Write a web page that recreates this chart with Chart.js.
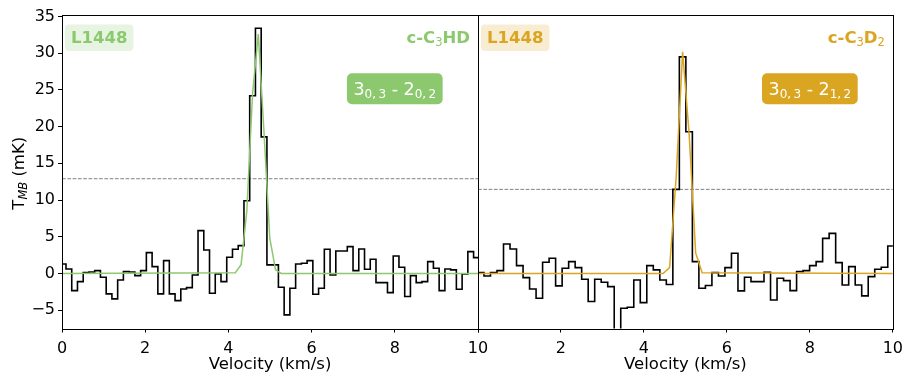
<!DOCTYPE html>
<html>
<head>
<meta charset="utf-8">
<script src="https://cdn.jsdelivr.net/npm/chart.js@4.4.1/dist/chart.umd.min.js"></script>
<style>
  html, body { margin: 0; padding: 0; background: #fff; }
  #wrap { position: relative; width: 907px; height: 376px; overflow: hidden; background: #fff; }
  #wrap canvas { position: absolute; top: 0; }
  #left { left: 0; }
  #right { left: 470px; }
</style>
</head>
<body>
<div id="wrap">
  <canvas id="left" width="500" height="376"></canvas>
  <canvas id="right" width="440" height="376"></canvas>
</div>
<script>
// ---- c-C3HD 3(0,3)-2(0,2) towards L1448 ----
// lower velocity edge of the first channel and channel width (km/s)
const c3hdEdge0 = -0.042;
const c3hdDv = 0.138;
// antenna temperature per channel (mK)
const c3hdT = [
  1.29, 0.61, -2.34, -1.11, 0.11, 0.20, 0.38, -0.52, -2.79, -3.47,
  -0.89, 0.25, 0.20, -0.30, 0.38, 2.83, 0.93, -2.79, 1.75, -2.79,
  -3.70, -2.11, -1.93, -0.21, 5.83, 3.20, -2.70, -0.07, -1.11, 2.20,
  3.30, 3.79, 9.91, 24.2, 33.4, 18.6, 1.16, 1.16, -1.88, -5.65,
  -2.02, 1.29, 1.38, 1.75, -2.84, -2.02, 3.29, -0.21, 3.06, 3.06,
  3.65, 0.38, 3.33, 0.57, 1.93, -1.25, -1.25, -2.61, 2.38, 0.84,
  -3.15, -0.30, -1.25, -1.11, 1.61, 0.70, -2.34, 0.61, 0.48, -2.16,
  -0.07, 2.97, 2.15
];
// Gaussian fit, sampled on the channel centres
const c3hdFitV = [0, 4.167, 4.305, 4.443, 4.581, 4.719, 4.857, 4.995, 5.133, 5.271, 10];
const c3hdFitT = [0, 0.1, 1.2, 8.5, 24.5, 32.6, 19.1, 4.8, 0.5, 0, 0];
// 3 sigma level (mK)
const c3hdLevel = 12.9;

// ---- c-C3D2 3(0,3)-2(1,2) towards L1448 ----
const c3d2Edge0 = -0.013;
const c3d2Dv = 0.157;
const c3d2T = [
  0.11, -0.34, 0.11, 0.38, 4.01, 3.33, 1.07, -0.57, -2.11, -3.38,
  1.52, 2.06, -1.70, 0.70, 1.61, 0.79, -0.79, -3.83, -0.79, -1.20,
  -1.79, -7.90, -4.74, -4.60, -0.89, -3.97, 1.07, 0.48, -0.89, -1.50,
  11.45, 29.5, 19.3, 1.61, -2.02, -1.64, 0.11, -0.34, 0.79, 2.74,
  -2.38, -0.52, -1.11, -1.11, 0.16, -3.61, -0.66, -0.98, -2.34, 0.25,
  0.38, 1.07, 1.61, 4.78, 5.46, 1.47, -1.57, 0.93, -1.57, -3.06,
  -0.43, 0.57, 0.84, 3.74
];
const c3d2FitV = [0, 4.462, 4.619, 4.776, 4.933, 5.090, 5.247, 5.404, 10];
const c3d2FitT = [0, 0, 0.8, 13.0, 30.2, 19.0, 2.8, 0.1, 0];
const c3d2Level = 11.45;

// axes
const velTicks = [0, 2, 4, 6, 8, 10];
const tmbTicks = [-5, 0, 5, 10, 15, 20, 25, 30, 35];
const velRange = [0, 10];
const tmbRange = [-7.5, 35.2];

const FF = "'DejaVu Sans', sans-serif";
Chart.defaults.font.family = FF;
Chart.defaults.color = '#000';

const GREEN = '#8cc96e';
const GOLD = '#daa520';

function stepPoints(edge0, dv, temps) {
  const pts = temps.map((t, i) => ({ x: edge0 + i * dv, y: t }));
  pts.push({ x: edge0 + temps.length * dv, y: temps[temps.length - 1] });
  return pts;
}
function pairPoints(xs, ys) {
  return xs.map((x, i) => ({ x: x, y: ys[i] }));
}
function fmtNum(v) {
  return v < 0 ? '\u2212' + Math.abs(v) : String(v);
}
function runsWidth(ctx, runs) {
  let w = 0;
  for (const r of runs) { ctx.font = r.font; w += ctx.measureText(r.t).width; }
  return w;
}
function drawRuns(ctx, runs, x, y) {
  let cx = x;
  for (const r of runs) {
    ctx.font = r.font;
    ctx.fillText(r.t, cx, y + (r.dy || 0));
    cx += ctx.measureText(r.t).width;
  }
}
function roundBox(ctx, x, y, w, h, r) {
  ctx.beginPath();
  ctx.moveTo(x + r, y);
  ctx.lineTo(x + w - r, y);
  ctx.arcTo(x + w, y, x + w, y + r, r);
  ctx.lineTo(x + w, y + h - r);
  ctx.arcTo(x + w, y + h, x + w - r, y + h, r);
  ctx.lineTo(x + r, y + h);
  ctx.arcTo(x, y + h, x, y + h - r, r);
  ctx.lineTo(x, y + r);
  ctx.arcTo(x, y, x + r, y, r);
  ctx.closePath();
}

const bold = `bold 16.5px ${FF}`;
const sub = `11.5px ${FF}`;
const big = `17.5px ${FF}`;
const small = `12px ${FF}`;

// frame, labels and boxes drawn on top of each panel
const panelDecor = {
  id: 'panelDecor',
  afterDraw(chart, args, o) {
    const ctx = chart.ctx;
    const a = chart.chartArea;
    const L = a.left, T = a.top, R = a.right, B = a.bottom, W = R - L;
    ctx.save();
    // axes frame
    ctx.strokeStyle = '#000';
    ctx.lineWidth = 1;
    ctx.strokeRect(Math.round(L) + 0.5, Math.round(T) + 0.5, Math.round(R) - Math.round(L), Math.round(B) - Math.round(T));
    ctx.textAlign = 'left';
    ctx.textBaseline = 'alphabetic';
    // source tag
    ctx.font = bold;
    const tw = ctx.measureText(o.source).width;
    ctx.fillStyle = o.tagBg;
    roundBox(ctx, L + 3, T + 9.5, tw + 12, 26.5, 4);
    ctx.fill();
    ctx.fillStyle = o.color;
    ctx.fillText(o.source, L + 9, T + 28);
    // species
    const sw = runsWidth(ctx, o.species);
    drawRuns(ctx, o.species, R - 8 - sw, T + 28.3);
    // transition
    const trw = runsWidth(ctx, o.transition);
    const cx = L + 0.8 * W, cy = T + 73.8;
    const bw = trw + 13, bh = 31;
    ctx.fillStyle = o.color;
    roundBox(ctx, cx - bw / 2, cy - bh / 2, bw, bh, 5);
    ctx.fill();
    ctx.fillStyle = '#fff';
    drawRuns(ctx, o.transition, cx - trw / 2, cy + 6.2);
    // y axis title
    if (o.yTitle) {
      const runs = [
        { t: 'T', font: `16.5px ${FF}` },
        { t: 'MB', font: `italic 11.5px ${FF}`, dy: 3 },
        { t: ' (mK)', font: `16.5px ${FF}` }
      ];
      const w = runsWidth(ctx, runs);
      ctx.fillStyle = '#000';
      ctx.translate(24, (T + B) / 2 + 1.5);
      ctx.rotate(-Math.PI / 2);
      drawRuns(ctx, runs, -w / 2, 0);
    }
    ctx.restore();
  }
};

function makePanel(canvasId, spec) {
  const tickGrid = {
    display: true, drawOnChartArea: false, drawTicks: true,
    tickLength: 4, tickColor: '#000', tickWidth: 1
  };
  return new Chart(document.getElementById(canvasId), {
    type: 'line',
    data: {
      datasets: [
        {
          data: spec.fit, borderColor: spec.color, borderWidth: 1.5,
          pointRadius: 0, tension: 0, fill: false, order: 0
        },
        {
          data: spec.spectrum, borderColor: '#000', borderWidth: 1.6,
          stepped: true, pointRadius: 0, fill: false, order: 1
        },
        {
          data: spec.level, borderColor: 'gray', borderWidth: 1,
          borderDash: [3.7, 1.6], pointRadius: 0, fill: false, order: 2
        }
      ]
    },
    options: {
      responsive: false,
      animation: false,
      devicePixelRatio: 1,
      layout: { padding: spec.padding },
      plugins: {
        legend: { display: false },
        tooltip: { enabled: false },
        panelDecor: spec.decor
      },
      scales: {
        x: {
          type: 'linear', min: velRange[0], max: velRange[1],
          afterBuildTicks: s => { s.ticks = velTicks.map(v => ({ value: v })); },
          afterFit: s => { s.height = 47.5; },
          grid: tickGrid,
          border: { display: false },
          ticks: {
            color: '#000', font: { size: 16 }, padding: 7, maxRotation: 0, autoSkip: false,
            callback: v => (spec.hideFirstVel && v === velTicks[0]) ? '' : fmtNum(v)
          },
          title: {
            display: true, text: 'Velocity (km/s)', color: '#000',
            font: { size: 16.5 }, padding: { top: 0, bottom: 1.5 }
          }
        },
        y: {
          type: 'linear', min: tmbRange[0], max: tmbRange[1],
          display: spec.showY,
          afterBuildTicks: s => { s.ticks = tmbTicks.map(v => ({ value: v })); },
          afterFit: s => { s.width = spec.showY ? 62 : 0; },
          grid: tickGrid,
          border: { display: false },
          ticks: { color: '#000', font: { size: 16 }, padding: 3, callback: v => fmtNum(v) }
        }
      }
    },
    plugins: [panelDecor]
  });
}

const thin = '\u2009';

makePanel('left', {
  color: GREEN,
  spectrum: stepPoints(c3hdEdge0, c3hdDv, c3hdT),
  fit: pairPoints(c3hdFitV, c3hdFitT),
  level: [{ x: velRange[0], y: c3hdLevel }, { x: velRange[1], y: c3hdLevel }],
  padding: { left: 0, right: 22, top: 15, bottom: 0 },
  showY: true,
  hideFirstVel: false,
  decor: {
    source: 'L1448', color: GREEN, tagBg: '#e8f4e2', yTitle: true,
    species: [
      { t: 'c-C', font: bold }, { t: '3', font: sub, dy: 3 }, { t: 'HD', font: bold }
    ],
    transition: [
      { t: '3', font: big }, { t: '0,' + thin + '3', font: small, dy: 3 },
      { t: ' - ', font: big },
      { t: '2', font: big }, { t: '0,' + thin + '2', font: small, dy: 3 }
    ]
  }
});

makePanel('right', {
  color: GOLD,
  spectrum: stepPoints(c3d2Edge0, c3d2Dv, c3d2T),
  fit: pairPoints(c3d2FitV, c3d2FitT),
  level: [{ x: velRange[0], y: c3d2Level }, { x: velRange[1], y: c3d2Level }],
  padding: { left: 8, right: 11, top: 15, bottom: 0 },
  showY: false,
  hideFirstVel: true,
  decor: {
    source: 'L1448', color: GOLD, tagBg: '#f8edd2', yTitle: false,
    species: [
      { t: 'c-C', font: bold }, { t: '3', font: sub, dy: 3 },
      { t: 'D', font: bold }, { t: '2', font: sub, dy: 3 }
    ],
    transition: [
      { t: '3', font: big }, { t: '0,' + thin + '3', font: small, dy: 3 },
      { t: ' - ', font: big },
      { t: '2', font: big }, { t: '1,' + thin + '2', font: small, dy: 3 }
    ]
  }
});
</script>
</body>
</html>
